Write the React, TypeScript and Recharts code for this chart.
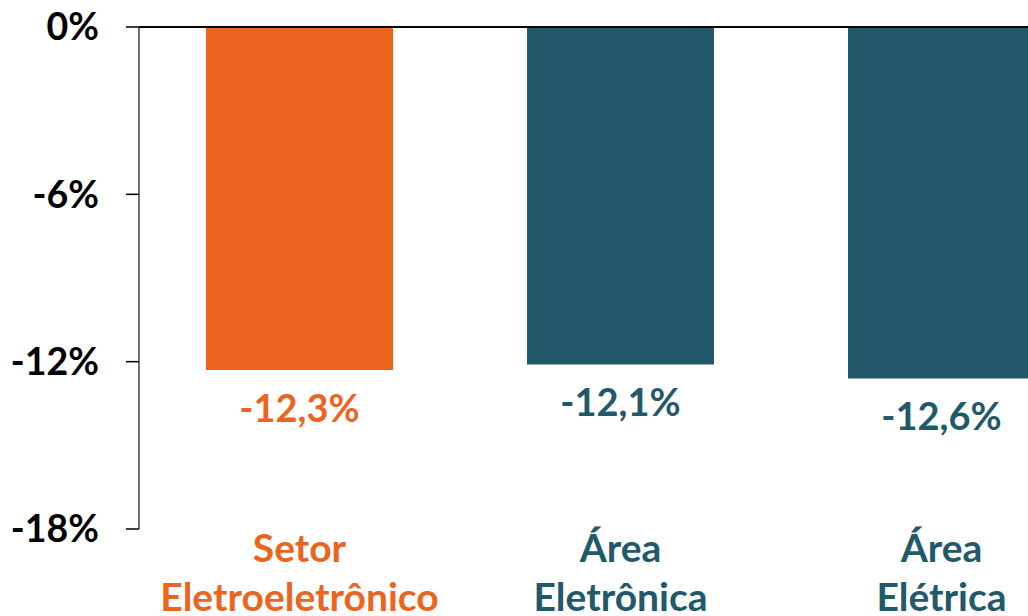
import { BarChart, Bar, XAxis, YAxis, Cell, LabelList, ReferenceLine } from "recharts";

const categories = ["Setor Eletroeletrônico", "Área Eletrônica", "Área Elétrica"];
const values = [-12.3, -12.1, -12.6];
const barColors = ["#EB651F", "#22596A", "#22596A"];
const yTicks = [0, -6, -12, -18];

const data = categories.map((name, i) => ({ name, value: values[i], color: barColors[i] }));

const FONT = "Lato, 'Open Sans', sans-serif";

const CategoryTick = ({ x, y, payload, index }: any) => {
  const [first, ...rest] = String(payload.value).split(" ");
  const color = barColors[index] || "#22596A";
  return (
    <text
      x={x}
      y={y}
      textAnchor="middle"
      fill={color}
      fontFamily={FONT}
      fontWeight={700}
      fontSize={39}
    >
      <tspan x={x} dy={33}>{first}</tspan>
      <tspan x={x} dy={49}>{rest.join(" ")}</tspan>
    </text>
  );
};

const ValueLabel = ({ x, y, width, height, value, index }: any) => {
  const bottom = Math.max(y, y + height);
  return (
    <text
      x={x + width / 2}
      y={bottom + 52}
      textAnchor="middle"
      fill={barColors[index]}
      fontFamily={FONT}
      fontWeight={700}
      fontSize={38}
    >
      {Number(value).toFixed(1).replace(".", ",")}%
    </text>
  );
};

export default function App() {
  return (
    <div
      style={{
        position: "fixed",
        left: 0,
        top: 0,
        width: 1028,
        height: 616,
        overflow: "hidden",
        background: "#fff",
      }}
    >
      <BarChart
        width={1102}
        height={616}
        data={data}
        margin={{ top: 27, right: 0, bottom: 0, left: 0 }}
      >
        <XAxis
          dataKey="name"
          axisLine={false}
          tickLine={false}
          tickSize={0}
          tickMargin={0}
          interval={0}
          height={87}
          tick={<CategoryTick />}
        />
        <YAxis
          width={139}
          domain={[-18, 0]}
          ticks={yTicks}
          interval={0}
          tickFormatter={(v: number) => `${v}%`}
          axisLine={{ stroke: "#404040", strokeWidth: 1.5 }}
          tickLine={{ stroke: "#000", strokeWidth: 1.5 }}
          tickSize={13}
          tickMargin={27}
          tick={{ fill: "#000", fontFamily: FONT, fontWeight: 700, fontSize: 37.5 }}
        />
        <ReferenceLine y={0} stroke="#000" strokeWidth={2} />
        <Bar dataKey="value" barSize={187} isAnimationActive={false}>
          {data.map((d, i) => (
            <Cell key={i} fill={d.color} />
          ))}
          <LabelList dataKey="value" content={<ValueLabel />} />
        </Bar>
      </BarChart>
    </div>
  );
}
